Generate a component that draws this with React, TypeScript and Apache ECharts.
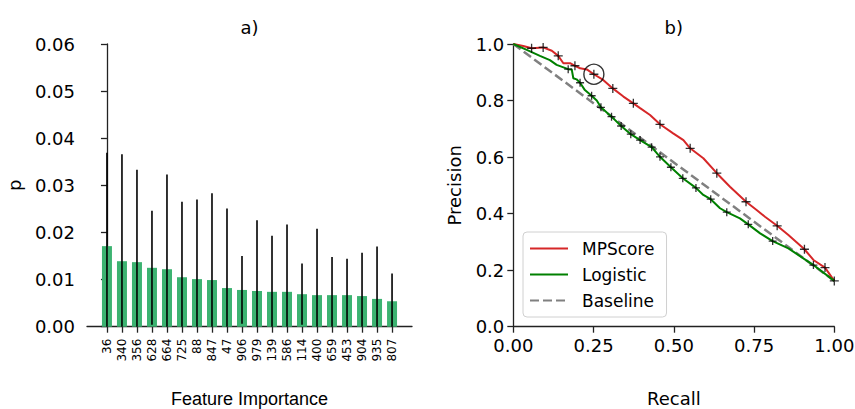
import React, { useEffect, useRef } from "react";
import * as echarts from "echarts";

// ---- Panel a) data ----
const features = ["36", "340", "356", "628", "664", "725", "88", "847", "47", "906", "979", "139", "586", "114", "400", "659", "453", "904", "935", "807"];
const importance = [0.0171, 0.0139, 0.0137, 0.0125, 0.0122, 0.0105, 0.0101, 0.0099, 0.0082, 0.0078, 0.0076, 0.0074, 0.0074, 0.0069, 0.0067, 0.0067, 0.0067, 0.0065, 0.0059, 0.0054];
const importanceErr = [0.0198, 0.0227, 0.0196, 0.0121, 0.0201, 0.016, 0.0169, 0.0184, 0.0169, 0.0072, 0.015, 0.0119, 0.0143, 0.0065, 0.0141, 0.0081, 0.0077, 0.0092, 0.0111, 0.0059];
const pTicks = [0, 0.01, 0.02, 0.03, 0.04, 0.05, 0.06];

// ---- Panel b) data ----
const mpscoreCurve: [number, number][] = [
  [0, 1.0], [0.031, 0.993], [0.057, 0.985], [0.093, 0.988], [0.12, 0.976], [0.14, 0.958], [0.156, 0.932], [0.177, 0.932],
  [0.192, 0.923], [0.208, 0.914], [0.229, 0.91], [0.251, 0.893], [0.28, 0.873], [0.31, 0.843], [0.343, 0.814], [0.374, 0.79],
  [0.395, 0.773], [0.426, 0.749], [0.457, 0.716], [0.498, 0.684], [0.53, 0.66], [0.551, 0.631], [0.592, 0.596], [0.634, 0.543],
  [0.675, 0.495], [0.725, 0.442], [0.758, 0.413], [0.784, 0.389], [0.822, 0.357], [0.857, 0.324], [0.907, 0.274], [0.935, 0.236],
  [0.971, 0.209], [1.0, 0.162],
];
const logisticCurve: [number, number][] = [
  [0, 1], [0.042, 0.979], [0.083, 0.958], [0.114, 0.943], [0.135, 0.926], [0.171, 0.911], [0.182, 0.91], [0.187, 0.879],
  [0.197, 0.875], [0.208, 0.863], [0.223, 0.837], [0.244, 0.817], [0.26, 0.8], [0.273, 0.776], [0.306, 0.743], [0.336, 0.71],
  [0.366, 0.681], [0.395, 0.66], [0.431, 0.635], [0.457, 0.601], [0.491, 0.564], [0.528, 0.525], [0.569, 0.491], [0.592, 0.466],
  [0.615, 0.451], [0.644, 0.419], [0.665, 0.405], [0.706, 0.383], [0.732, 0.362], [0.769, 0.33], [0.808, 0.303], [0.857, 0.277],
  [0.935, 0.218], [1.0, 0.162],
];
const baselineCurve: [number, number][] = [[0, 1], [1, 0.162]];
const mpscoreMarks: [number, number][] = [
  [0.057, 0.985], [0.093, 0.988], [0.14, 0.958], [0.192, 0.923], [0.251, 0.893], [0.31, 0.843], [0.374, 0.79], [0.457, 0.716],
  [0.551, 0.631], [0.634, 0.543], [0.725, 0.442], [0.822, 0.357], [0.907, 0.274], [0.971, 0.209], [1.0, 0.162],
];
const logisticMarks: [number, number][] = [
  [0.171, 0.911], [0.208, 0.863], [0.244, 0.817], [0.273, 0.776], [0.306, 0.743], [0.336, 0.71], [0.366, 0.681], [0.395, 0.66],
  [0.431, 0.635], [0.457, 0.601], [0.491, 0.564], [0.528, 0.525], [0.569, 0.491], [0.615, 0.451], [0.665, 0.405], [0.732, 0.362],
  [0.808, 0.303], [0.935, 0.218],
];
const highlightPoint: [number, number][] = [[0.251, 0.893]];
const recallTicks = [0, 0.25, 0.5, 0.75, 1.0];
const precisionTicks = [0, 0.2, 0.4, 0.6, 0.8, 1.0];

const FONT = "DejaVu Sans";
const AXIS_COLOR = "#222";

export default function App() {
  const ref = useRef<HTMLDivElement>(null);
  useEffect(() => {
    document.body.style.margin = "0";
    const chart = echarts.init(ref.current!, null, { renderer: "svg" });
    const idx = features.map((_, i) => i);
    const axisLine = { show: true, lineStyle: { color: AXIS_COLOR, width: 1.3 } };
    const axisTick = { show: true, length: 6, lineStyle: { color: AXIS_COLOR, width: 1.3 } };
    const tickLabel = { color: "#000", fontFamily: FONT, fontSize: 18 };
    chart.setOption({
      animation: false,
      backgroundColor: "#fff",
      graphic: [
        { type: "text", x: 249.5, y: 27, style: { text: "a)", fontFamily: FONT, fontSize: 18, fill: "#000", align: "center", verticalAlign: "middle" } },
        { type: "text", x: 673.8, y: 27, style: { text: "b)", fontFamily: FONT, fontSize: 18, fill: "#000", align: "center", verticalAlign: "middle" } },
      ],
      grid: [
        { left: 87, top: 44, width: 325, height: 282.7, outerBoundsMode: "none", containLabel: false },
        { left: 513.3, top: 44, width: 321, height: 282.7, outerBoundsMode: "none", containLabel: false },
      ],
      xAxis: [
        {
          type: "value", gridIndex: 0, min: -1.33, max: 20.33,
          axisLine, splitLine: { show: false },
          axisTick: { ...axisTick, customValues: idx },
          axisLabel: {
            customValues: idx, rotate: 90, margin: 12, color: "#000", fontFamily: FONT, fontSize: 12,
            formatter: (v: number) => features[Math.round(v)] ?? "",
          },
          name: "Feature Importance", nameLocation: "middle", nameGap: 63,
          nameTextStyle: { fontFamily: "Liberation Sans", fontSize: 18, color: "#000" },
        },
        {
          type: "value", gridIndex: 1, min: 0, max: 1, interval: 0.25,
          axisLine, axisTick, splitLine: { show: false },
          axisLabel: { ...tickLabel, margin: 10, formatter: (v: number) => v.toFixed(2), customValues: recallTicks },
          name: "Recall", nameLocation: "middle", nameGap: 63,
          nameTextStyle: { fontFamily: FONT, fontSize: 18, color: "#000" },
        },
      ],
      yAxis: [
        {
          type: "value", gridIndex: 0, min: 0, max: 0.06, interval: 0.01,
          axisLine, axisTick, splitLine: { show: false },
          axisLabel: { ...tickLabel, margin: 12, formatter: (v: number) => v.toFixed(2), customValues: pTicks },
          name: "p", nameLocation: "middle", nameGap: 64,
          nameTextStyle: { fontFamily: FONT, fontSize: 18, color: "#000" },
        },
        {
          type: "value", gridIndex: 1, min: 0, max: 1, interval: 0.2,
          axisLine, axisTick, splitLine: { show: false },
          axisLabel: { ...tickLabel, margin: 9, formatter: (v: number) => v.toFixed(1), customValues: precisionTicks },
          name: "Precision", nameLocation: "middle", nameGap: 50,
          nameTextStyle: { fontFamily: FONT, fontSize: 18, color: "#000" },
        },
      ],
      legend: {
        data: ["MPScore", "Logistic", "Baseline"],
        orient: "vertical", left: 523, top: 232,
        itemWidth: 38, itemHeight: 14, itemGap: 9,
        padding: [8, 12, 8, 6],
        borderColor: "#d0d0d0", borderWidth: 1, borderRadius: 4,
        backgroundColor: "rgba(255,255,255,0.8)",
        itemStyle: { opacity: 0, color: "rgba(0,0,0,0)", borderWidth: 0 },
        textStyle: { fontFamily: FONT, fontSize: 17, color: "#000", padding: [0, 0, 0, 9] },
        selectedMode: false,
      },
      series: [
        {
          type: "bar", xAxisIndex: 0, yAxisIndex: 0, barWidth: 10,
          data: importance.map((v, i) => [i, v]),
          itemStyle: { color: "#3cb371" }, silent: true,
        },
        {
          type: "custom", xAxisIndex: 0, yAxisIndex: 0, silent: true, z: 5,
          data: importance.map((v, i) => [i, Math.max(0, v - importanceErr[i]), v + importanceErr[i]]),
          encode: { x: 0, y: [1, 2] },
          renderItem: (_p: any, api: any) => {
            const a = api.coord([api.value(0), api.value(1)]);
            const b = api.coord([api.value(0), api.value(2)]);
            return { type: "line", shape: { x1: a[0], y1: a[1], x2: b[0], y2: b[1] }, style: { stroke: "#000", lineWidth: 1.6 } };
          },
        },
        {
          name: "Baseline", type: "line", xAxisIndex: 1, yAxisIndex: 1, data: baselineCurve,
          symbol: "none", silent: true, color: "#808080",
          lineStyle: { color: "#808080", width: 2.5, type: [9, 4] },
        },
        {
          name: "MPScore", type: "line", xAxisIndex: 1, yAxisIndex: 1, data: mpscoreCurve,
          symbol: "none", silent: true, color: "#d62728", z: 3,
          lineStyle: { color: "#d62728", width: 2 },
        },
        {
          name: "Logistic", type: "line", xAxisIndex: 1, yAxisIndex: 1, data: logisticCurve,
          symbol: "none", silent: true, color: "#008000", z: 3,
          lineStyle: { color: "#008000", width: 2 },
        },
        {
          name: "mpscore thresholds", type: "scatter", xAxisIndex: 1, yAxisIndex: 1, data: mpscoreMarks,
          symbol: "path://M0,5L10,5M5,0L5,10", symbolSize: 9, silent: true, z: 6,
          itemStyle: { color: "#000", borderColor: "#000", borderWidth: 1.3 },
        },
        {
          name: "logistic thresholds", type: "scatter", xAxisIndex: 1, yAxisIndex: 1, data: logisticMarks,
          symbol: "path://M0,5L10,5M5,0L5,10", symbolSize: 8, silent: true, z: 6,
          itemStyle: { color: "#000", borderColor: "#000", borderWidth: 1.3 },
        },
        {
          name: "highlight", type: "scatter", xAxisIndex: 1, yAxisIndex: 1, data: highlightPoint,
          symbol: "circle", symbolSize: 20, silent: true, z: 7,
          itemStyle: { color: "rgba(0,0,0,0)", borderColor: "#000", borderWidth: 1.4 },
        },
      ],
    });
    return () => chart.dispose();
  }, []);
  return <div ref={ref} style={{ width: 855, height: 409 }} />;
}
